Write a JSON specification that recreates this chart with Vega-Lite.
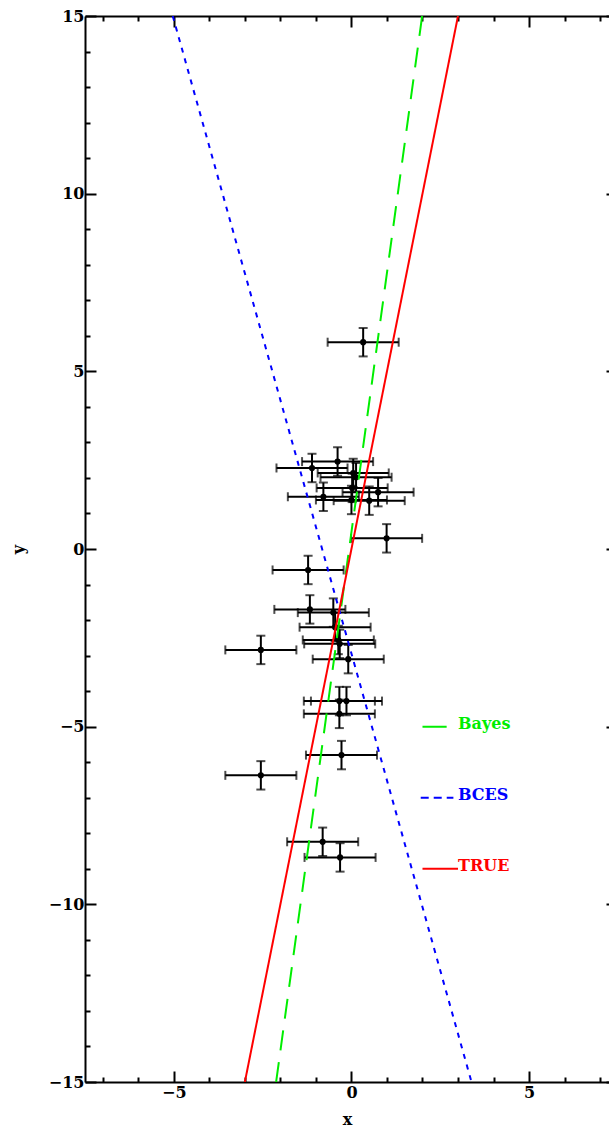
{
  "$schema": "https://vega.github.io/schema/vega-lite/v6.json",
  "width": 524,
  "height": 1066,
  "autosize": {"type": "none"},
  "padding": {"left": 85, "top": 16, "right": 0, "bottom": 48},
  "background": "white",
  "config": {
    "view": {"stroke": null},
    "axis": {
      "grid": false,
      "domainColor": "black",
      "domainWidth": 2,
      "tickColor": "black",
      "tickWidth": 2,
      "labelFont": "DejaVu Serif",
      "labelFontWeight": "bold",
      "labelFontSize": 16,
      "labelColor": "black",
      "labelFlush": false,
      "labelOverlap": false,
      "titleFont": "DejaVu Serif",
      "titleFontWeight": "bold",
      "titleFontSize": 16,
      "titleColor": "black"
    }
  },
  "datasets": {
    "points": [
      {"x": 0.33, "y": 5.82, "xerr": 1.0, "yerr": 0.4},
      {"x": -0.39, "y": 2.46, "xerr": 1.0, "yerr": 0.4},
      {"x": -1.11, "y": 2.28, "xerr": 1.0, "yerr": 0.4},
      {"x": 0.05, "y": 2.14, "xerr": 1.0, "yerr": 0.4},
      {"x": 0.13, "y": 2.02, "xerr": 1.0, "yerr": 0.4},
      {"x": 0.02, "y": 1.72, "xerr": 1.0, "yerr": 0.4},
      {"x": -0.79, "y": 1.47, "xerr": 1.0, "yerr": 0.4},
      {"x": 0.0, "y": 1.38, "xerr": 1.0, "yerr": 0.4},
      {"x": 0.5, "y": 1.36, "xerr": 1.0, "yerr": 0.4},
      {"x": 0.75, "y": 1.6, "xerr": 1.0, "yerr": 0.4},
      {"x": 0.99, "y": 0.3, "xerr": 1.0, "yerr": 0.4},
      {"x": -1.22, "y": -0.59, "xerr": 1.0, "yerr": 0.4},
      {"x": -1.17, "y": -1.7, "xerr": 1.0, "yerr": 0.4},
      {"x": -0.51, "y": -1.79, "xerr": 1.0, "yerr": 0.4},
      {"x": -0.46, "y": -2.2, "xerr": 1.0, "yerr": 0.4},
      {"x": -0.37, "y": -2.56, "xerr": 1.0, "yerr": 0.4},
      {"x": -0.33, "y": -2.67, "xerr": 1.0, "yerr": 0.4},
      {"x": -2.55, "y": -2.84, "xerr": 1.0, "yerr": 0.4},
      {"x": -0.09, "y": -3.1, "xerr": 1.0, "yerr": 0.4},
      {"x": -0.34, "y": -4.28, "xerr": 1.0, "yerr": 0.4},
      {"x": -0.14, "y": -4.28, "xerr": 1.0, "yerr": 0.4},
      {"x": -0.34, "y": -4.64, "xerr": 1.0, "yerr": 0.4},
      {"x": -0.28, "y": -5.8, "xerr": 1.0, "yerr": 0.4},
      {"x": -2.55, "y": -6.37, "xerr": 1.0, "yerr": 0.4},
      {"x": -0.81, "y": -8.24, "xerr": 1.0, "yerr": 0.4},
      {"x": -0.32, "y": -8.68, "xerr": 1.0, "yerr": 0.4}
    ],
    "lines": [
      {"series": "Bayes", "x": -2.12, "y": -15},
      {"series": "Bayes", "x": 1.99, "y": 15},
      {"series": "BCES", "x": -5.03, "y": 15},
      {"series": "BCES", "x": 3.38, "y": -15},
      {"series": "TRUE", "x": -3.0, "y": -15},
      {"series": "TRUE", "x": 3.0, "y": 15}
    ],
    "legendLines": [
      {"series": "Bayes", "x": 2.0, "y": -5},
      {"series": "Bayes", "x": 2.68, "y": -5},
      {"series": "BCES", "x": 1.95, "y": -7},
      {"series": "BCES", "x": 2.87, "y": -7},
      {"series": "TRUE", "x": 2.0, "y": -9},
      {"series": "TRUE", "x": 3.0, "y": -9}
    ],
    "legendText": [
      {"series": "Bayes", "x": 3.0, "y": -5},
      {"series": "BCES", "x": 3.0, "y": -7},
      {"series": "TRUE", "x": 3.0, "y": -9}
    ]
  },
  "layer": [
    {
      "data": {"name": "points"},
      "mark": {"type": "errorbar", "ticks": {"size": 9, "thickness": 2, "color": "black"}, "rule": {"strokeWidth": 2, "color": "black"}},
      "encoding": {
        "x": {"field": "x", "type": "quantitative", "scale": {"domain": [-7.5, 7.25], "nice": false, "zero": false}, "axis": null},
        "xError": {"field": "xerr"},
        "y": {"field": "y", "type": "quantitative", "scale": {"domain": [-15, 15], "nice": false, "zero": false}, "axis": null}
      }
    },
    {
      "data": {"name": "points"},
      "mark": {"type": "errorbar", "ticks": {"size": 9, "thickness": 2, "color": "black"}, "rule": {"strokeWidth": 2, "color": "black"}},
      "encoding": {
        "y": {"field": "y", "type": "quantitative", "scale": {"domain": [-15, 15], "nice": false, "zero": false}, "axis": null},
        "yError": {"field": "yerr"},
        "x": {"field": "x", "type": "quantitative", "scale": {"domain": [-7.5, 7.25], "nice": false, "zero": false}, "axis": null}
      }
    },
    {
      "data": {"name": "points"},
      "mark": {"type": "point", "filled": true, "size": 38, "color": "black", "opacity": 1},
      "encoding": {
        "x": {"field": "x", "type": "quantitative", "scale": {"domain": [-7.5, 7.25], "nice": false, "zero": false}, "axis": null},
        "y": {"field": "y", "type": "quantitative", "scale": {"domain": [-15, 15], "nice": false, "zero": false}, "axis": null}
      }
    },
    {
      "data": {"name": "lines"},
      "mark": {"type": "line", "clip": true, "strokeWidth": 2},
      "encoding": {
        "x": {
          "field": "x", "type": "quantitative",
          "scale": {"domain": [-7.5, 7.25], "nice": false, "zero": false},
          "axis": {
            "orient": "bottom",
            "values": [-7, -6, -5, -4, -3, -2, -1, 0, 1, 2, 3, 4, 5, 6, 7],
            "labelExpr": "datum.value % 5 === 0 ? datum.label : ''",
            "tickSize": {"condition": {"test": "datum.value % 5 === 0", "value": -11}, "value": -5},
            "labelPadding": 13,
            "title": "x",
            "titlePadding": 5
          }
        },
        "y": {
          "field": "y", "type": "quantitative",
          "scale": {"domain": [-15, 15], "nice": false, "zero": false},
          "axis": {
            "orient": "left",
            "values": [-15, -14, -13, -12, -11, -10, -9, -8, -7, -6, -5, -4, -3, -2, -1, 0, 1, 2, 3, 4, 5, 6, 7, 8, 9, 10, 11, 12, 13, 14, 15],
            "labelExpr": "datum.value % 5 === 0 ? datum.label : ''",
            "tickSize": {"condition": {"test": "datum.value % 5 === 0", "value": -11}, "value": -5},
            "labelPadding": 12,
            "title": "y",
            "titlePadding": 22
          }
        },
        "color": {"field": "series", "type": "nominal", "scale": {"domain": ["Bayes", "BCES", "TRUE"], "range": ["#00ee00", "#0000ff", "#ff0000"]}, "legend": null},
        "strokeDash": {"field": "series", "type": "nominal", "scale": {"domain": ["Bayes", "BCES", "TRUE"], "range": [[20, 12], [5, 6], [1, 0]]}, "legend": null}
      }
    },
    {
      "layer": [
        {
          "data": {"name": "legendLines"},
          "mark": {"type": "line", "clip": true, "strokeWidth": 2},
          "encoding": {
            "x": {
              "field": "x", "type": "quantitative",
              "scale": {"domain": [-7.5, 7.25], "nice": false, "zero": false},
              "axis": {
                "orient": "top",
                "values": [-7, -6, -5, -4, -3, -2, -1, 0, 1, 2, 3, 4, 5, 6, 7],
                "labels": false,
                "title": null,
                "tickSize": {"condition": {"test": "datum.value % 5 === 0", "value": -11}, "value": -5}
              }
            },
            "y": {
              "field": "y", "type": "quantitative",
              "scale": {"domain": [-15, 15], "nice": false, "zero": false},
              "axis": {
                "orient": "right",
                "values": [-15, -10, -5, 0, 5, 10, 15],
                "labels": false,
                "title": null,
                "domain": false,
                "offset": 8,
                "tickSize": -11
              }
            },
            "color": {"field": "series", "type": "nominal", "legend": null},
            "strokeDash": {"field": "series", "type": "nominal", "scale": {"domain": ["Bayes", "BCES", "TRUE"], "range": [[1, 0], [8, 5], [1, 0]]}, "legend": null}
          }
        }
      ]
    },
    {
      "data": {"name": "legendText"},
      "mark": {"type": "text", "align": "left", "baseline": "alphabetic", "dy": 2, "font": "DejaVu Serif", "fontWeight": "bold", "fontSize": 16},
      "encoding": {
        "x": {"field": "x", "type": "quantitative", "scale": {"domain": [-7.5, 7.25], "nice": false, "zero": false}, "axis": null},
        "y": {"field": "y", "type": "quantitative", "scale": {"domain": [-15, 15], "nice": false, "zero": false}, "axis": null},
        "text": {"field": "series"},
        "color": {"field": "series", "type": "nominal", "legend": null}
      }
    }
  ],
  "resolve": {"axis": {"x": "independent", "y": "independent"}, "scale": {"strokeDash": "independent"}}
}
